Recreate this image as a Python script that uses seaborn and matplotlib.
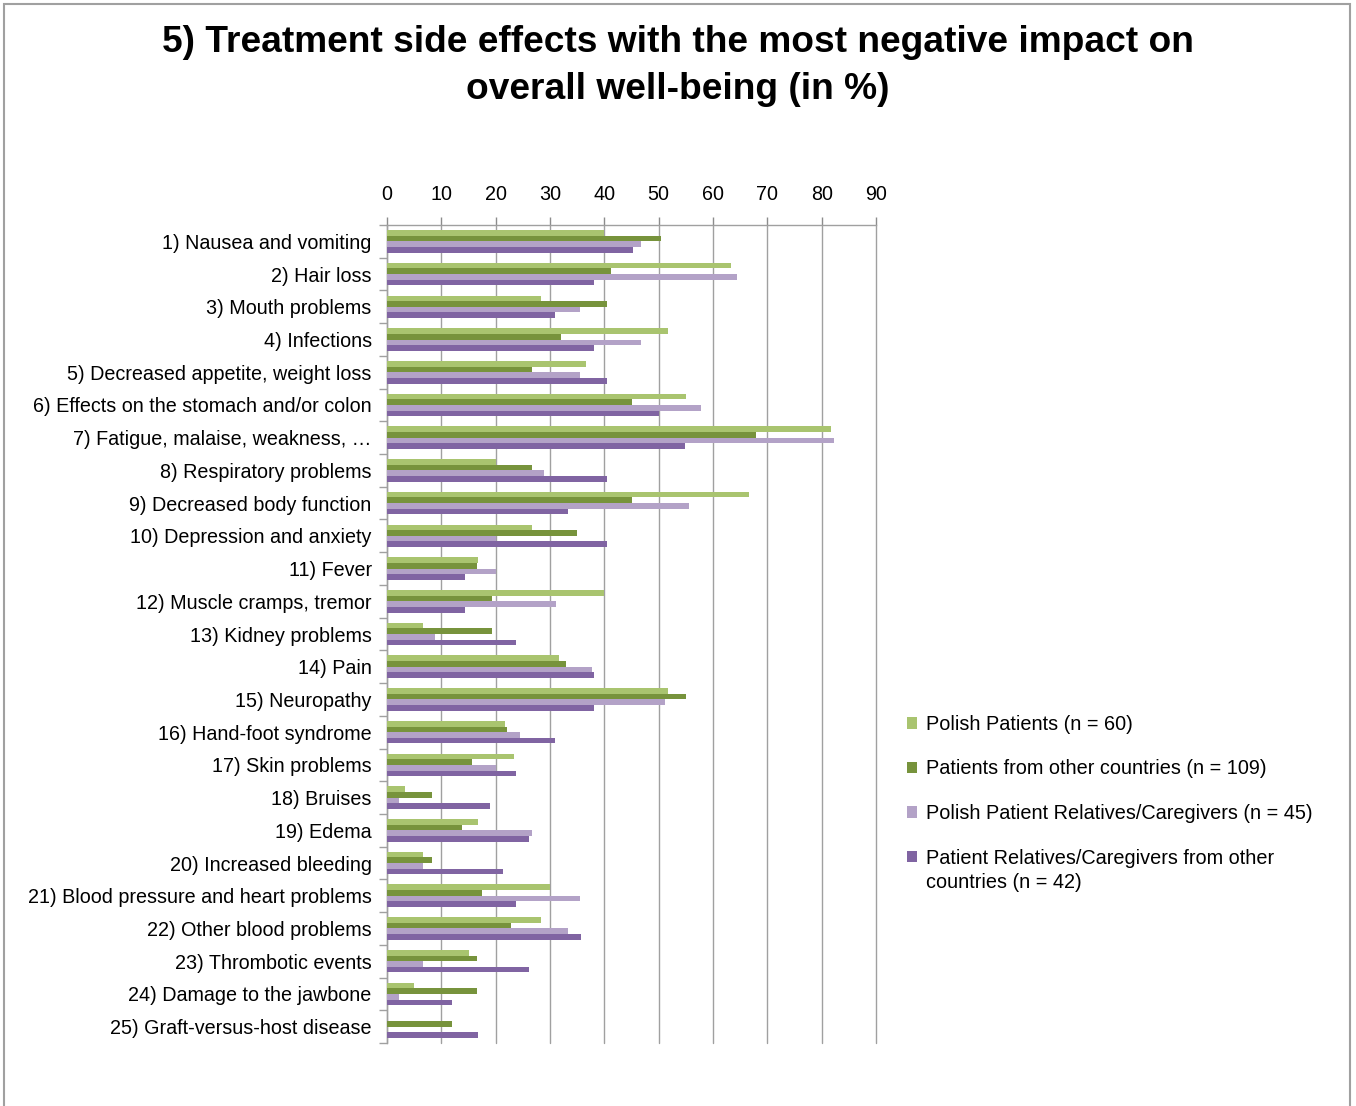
import numpy as np
import pandas as pd
import matplotlib
matplotlib.use("Agg")
import matplotlib.pyplot as plt
from matplotlib.patches import Rectangle, Patch
from matplotlib.ticker import FixedLocator
import seaborn as sns

# Side effects (category axis, top to bottom)
side_effects = [
    "1) Nausea and vomiting",
    "2) Hair loss",
    "3) Mouth problems",
    "4) Infections",
    "5) Decreased appetite, weight loss",
    "6) Effects on the stomach and/or colon",
    "7) Fatigue, malaise, weakness, \u2026",
    "8) Respiratory problems",
    "9) Decreased body function",
    "10) Depression and anxiety",
    "11) Fever",
    "12) Muscle cramps, tremor",
    "13) Kidney problems",
    "14) Pain",
    "15) Neuropathy",
    "16) Hand-foot syndrome",
    "17) Skin problems",
    "18) Bruises",
    "19) Edema",
    "20) Increased bleeding",
    "21) Blood pressure and heart problems",
    "22) Other blood problems",
    "23) Thrombotic events",
    "24) Damage to the jawbone",
    "25) Graft-versus-host disease",
]

# Respondent groups
groups = [
    "Polish Patients (n = 60)",
    "Patients from other countries (n = 109)",
    "Polish Patient Relatives/Caregivers (n = 45)",
    "Patient Relatives/Caregivers from other countries (n = 42)",
]

# Share of respondents (%) per group
polish_patients = [40.0, 63.3, 28.3, 51.7, 36.7, 55.0, 81.7, 20.0, 66.7, 26.7,
                   16.7, 40.0, 6.7, 31.7, 51.7, 21.7, 23.3, 3.3, 16.7, 6.7,
                   30.0, 28.3, 15.0, 5.0, 0.0]
other_patients = [50.5, 41.3, 40.4, 32.1, 26.6, 45.0, 67.9, 26.6, 45.0, 34.9,
                  16.5, 19.3, 19.3, 33.0, 55.0, 22.0, 15.6, 8.3, 13.8, 8.3,
                  17.4, 22.9, 16.5, 16.5, 11.9]
polish_caregivers = [46.7, 64.4, 35.6, 46.7, 35.6, 57.8, 82.2, 28.9, 55.6, 20.0,
                     20.0, 31.1, 8.9, 37.8, 51.1, 24.4, 20.0, 2.2, 26.7, 6.7,
                     35.6, 33.3, 6.7, 2.2, 0.0]
other_caregivers = [45.2, 38.1, 31.0, 38.1, 40.5, 50.0, 54.8, 40.5, 33.3, 40.5,
                    14.3, 14.3, 23.8, 38.1, 38.1, 31.0, 23.8, 19.0, 26.2, 21.4,
                    23.8, 35.7, 26.2, 11.9, 16.7]

x_ticks = [0, 10, 20, 30, 40, 50, 60, 70, 80, 90]

palette = ["#A9C46F", "#77933C", "#B3A2C7", "#8064A2"]

series = [polish_patients, other_patients, polish_caregivers, other_caregivers]
df = pd.DataFrame({
    "effect": np.tile(side_effects, len(groups)),
    "group": np.repeat(groups, len(side_effects)),
    "value": np.concatenate(series),
})

sns.set_theme(style="white")
plt.rcParams["font.family"] = ["Liberation Sans", "DejaVu Sans"]
plt.rcParams["text.color"] = "black"

fig = plt.figure(figsize=(13.56, 11.06), dpi=100)
ax = fig.add_axes([387 / 1356, 1 - 1043 / 1106, (876 - 387) / 1356, (1043 - 225) / 1106])

sns.barplot(data=df, x="value", y="effect", hue="group", order=side_effects,
            hue_order=groups, palette=palette, orient="h", width=0.69,
            saturation=1, linewidth=0, errorbar=None, ax=ax, legend=False,
            zorder=3)

# Value axis on top
ax.set_xlim(0, 90)
ax.set_xticks(x_ticks)
ax.set_xticklabels([str(t) for t in x_ticks])
ax.xaxis.tick_top()
ax.xaxis.set_label_position("top")
ax.set_xlabel("")
ax.set_ylabel("")
ax.tick_params(axis="x", which="major", top=True, bottom=False, length=6,
               width=1, color="#8c8c8c", labelsize=14.2, pad=9, labelcolor="black")
ax.grid(axis="x", color="#a0a0a0", linewidth=1, zorder=0)
ax.set_axisbelow(True)
for gl in ax.get_xgridlines():
    gl.set_clip_on(False)

# Category axis with boundary ticks
ax.set_ylim(len(side_effects) - 0.5, -0.5)
ax.yaxis.set_minor_locator(FixedLocator(np.arange(-0.5, len(side_effects), 1.0)))
ax.tick_params(axis="y", which="major", length=0, labelsize=14.2, pad=11,
               labelcolor="black")
ax.tick_params(axis="y", which="minor", left=True, length=6, width=1,
               color="#a0a0a0")

for side in ["right", "bottom"]:
    ax.spines[side].set_visible(False)
for side in ["top", "left"]:
    ax.spines[side].set_color("#a0a0a0")
    ax.spines[side].set_linewidth(1)

# Legend to the right of the plot
legend_labels = [
    "Polish Patients (n = 60)",
    "Patients from other countries (n = 109)",
    "Polish Patient Relatives/Caregivers (n = 45)",
    "Patient Relatives/Caregivers from other",
]
handles = [Patch(facecolor=c, edgecolor="none") for c in palette]
fig.legend(handles, legend_labels, loc="upper left",
           bbox_to_anchor=(899 / 1356, 1 - 707 / 1106), frameon=False,
           fontsize=14.35, handlelength=0.5, handleheight=0.5,
           handletextpad=0.45, labelspacing=1.28, borderaxespad=0)
fig.text(926 / 1356, 1 - 882 / 1106, "countries (n = 42)", fontsize=14.35,
         ha="left", va="center", color="black")

fig.suptitle("5) Treatment side effects with the most negative impact on\noverall well-being (in %)",
             x=0.5, y=1 - 25 / 1106, fontsize=26.7, fontweight="bold",
             va="top", linespacing=1.44, color="black")

# Outer chart frame
fig.patches.append(Rectangle((4 / 1356, -0.05), 1346 / 1356, 1.05 - 4 / 1106,
                             transform=fig.transFigure, fill=False,
                             edgecolor="#a0a0a0", linewidth=1.5))

fig.savefig("out.png", dpi=100)
